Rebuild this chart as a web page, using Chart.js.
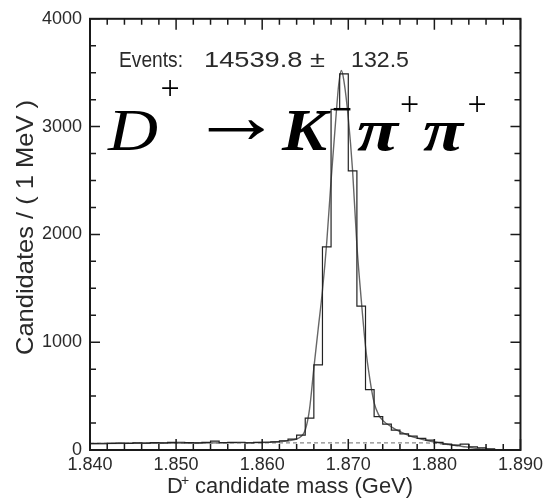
<!DOCTYPE html>
<html>
<head>
<meta charset="utf-8">
<script src="https://cdn.jsdelivr.net/npm/chart.js@4.4.1/dist/chart.umd.min.js"></script>
<style>
  html, body { margin: 0; padding: 0; background: #fff; }
</style>
</head>
<body>
<canvas id="massChart" width="547" height="500"></canvas>
<script>
// D+ -> K- pi+ pi+ candidate mass, 1 MeV bins between 1.840 and 1.890 GeV
const massMin = 1.840;
const massMax = 1.890;
const binWidth = 0.001;
const counts = [
  60, 58, 62, 64, 62, 66, 64, 68, 66, 70,
  72, 68, 66, 70, 82, 68, 70, 72, 66, 70,
  72, 76, 86, 100, 138, 295, 790, 1885, 3160, 3490,
  2590, 1335, 560, 310, 240, 185, 150, 129, 108, 92,
  71, 55, 45, 55, 30, 21, 10, 0, 0, 0
];

// fitted line shape (signal + background)
const fitMass = [
  1.840, 1.845, 1.850, 1.855, 1.858, 1.860, 1.862, 1.863, 1.864, 1.8645,
  1.865, 1.8655, 1.866, 1.8665, 1.867, 1.8675, 1.868, 1.8685, 1.8689, 1.8692,
  1.8695, 1.870, 1.8705, 1.871, 1.8715, 1.872, 1.8725, 1.873, 1.8735, 1.874,
  1.875, 1.876, 1.877, 1.878, 1.879, 1.880, 1.881, 1.882, 1.883, 1.884,
  1.885, 1.886, 1.887
];
const fitValue = [
  60, 62, 64, 66, 68, 70, 78, 86, 102, 125,
  185, 380, 760, 1120, 1480, 1930, 2500, 3020, 3400, 3520,
  3420, 3080, 2590, 1900, 1400, 960, 660, 440, 330, 275,
  215, 170, 136, 110, 90, 74, 60, 48, 36, 25,
  15, 7, 0
];

// background component
const bkgMass = [1.840, 1.850, 1.860, 1.870, 1.878, 1.880, 1.882, 1.884, 1.886, 1.887];
const bkgValue = [62, 64, 66, 67, 66, 62, 45, 24, 6, 0];

const xTicks = [1.840, 1.850, 1.860, 1.870, 1.880, 1.890];
const yTicks = [0, 1000, 2000, 3000, 4000];

const histPoints = counts.map((c, i) => ({ x: massMin + i * binWidth, y: c }));
histPoints.push({ x: massMax, y: counts[counts.length - 1] });

const ink = '#1a1a1a';
const labelInk = '#2a2a2a';

// squeeze or stretch a string horizontally to a given width
function fitText(ctx, text, x, y, width) {
  const w = ctx.measureText(text).width;
  ctx.save();
  ctx.translate(x, y);
  ctx.scale(width / w, 1);
  ctx.fillText(text, 0, 0);
  ctx.restore();
}

const framePlugin = {
  id: 'frame',
  afterDatasetsDraw(chart) {
    const { ctx, chartArea: a, scales: { x, y } } = chart;
    ctx.save();
    ctx.strokeStyle = ink;
    ctx.lineWidth = 2;
    ctx.strokeRect(a.left, a.top, a.right - a.left, a.bottom - a.top);

    // inward ticks on all four sides
    ctx.lineWidth = 1.5;
    ctx.beginPath();
    for (let i = 0; i <= 25; i++) {
      const px = x.getPixelForValue(massMin + i * 0.002);
      const len = i % 5 === 0 ? 11 : 6;
      ctx.moveTo(px, a.bottom); ctx.lineTo(px, a.bottom - len);
      ctx.moveTo(px, a.top); ctx.lineTo(px, a.top + len);
    }
    for (let v = 0; v <= 4000; v += 250) {
      const py = y.getPixelForValue(v);
      const len = v % 1000 === 0 ? 10 : 6;
      ctx.moveTo(a.left, py); ctx.lineTo(a.left + len, py);
      ctx.moveTo(a.right, py); ctx.lineTo(a.right - len, py);
    }
    ctx.stroke();

    ctx.fillStyle = labelInk;
    ctx.textBaseline = 'alphabetic';
    ctx.textAlign = 'left';

    // fit result
    ctx.font = '22px "Liberation Sans"';
    fitText(ctx, 'Events:', 119, 67, 64);
    fitText(ctx, '14539.8 \u00b1', 204, 67, 121);
    fitText(ctx, '132.5', 351, 67, 58);

    // decay channel
    ctx.fillStyle = '#000';
    ctx.font = 'italic 60px "Liberation Serif"';
    fitText(ctx, 'D', 108, 150, 50);
    ctx.font = 'bold italic 60px "Liberation Serif"';
    fitText(ctx, 'K', 282, 150, 45);
    fitText(ctx, '\u03c0', 357, 150, 41);
    fitText(ctx, '\u03c0', 423, 150, 40);
    ctx.font = 'bold 80px "Liberation Serif"';
    fitText(ctx, '\u2192', 190, 143, 93);
    ctx.textAlign = 'center';
    ctx.textBaseline = 'middle';
    ctx.font = '34px "Liberation Serif"';
    ctx.fillText('+', 170, 90);
    ctx.fillText('+', 409.5, 106);
    ctx.fillText('+', 477, 106);
    ctx.font = 'bold 36px "Liberation Serif"';
    ctx.fillText('\u2212', 342, 112);

    // axis titles
    ctx.fillStyle = labelInk;
    ctx.textAlign = 'left';
    ctx.textBaseline = 'alphabetic';
    ctx.font = '22px "Liberation Sans"';
    ctx.fillText('D', 167, 493);
    fitText(ctx, 'candidate mass (GeV)', 195, 493, 218);
    ctx.font = '14px "Liberation Sans"';
    ctx.fillText('+', 181, 485);

    ctx.save();
    ctx.translate(33, 355);
    ctx.rotate(-Math.PI / 2);
    ctx.font = '24px "Liberation Sans"';
    fitText(ctx, 'Candidates / ( 1 MeV )', 0, 0, 255);
    ctx.restore();

    ctx.restore();
  }
};

new Chart(document.getElementById('massChart'), {
  type: 'line',
  data: {
    datasets: [
      {
        label: 'data',
        data: histPoints,
        stepped: 'before',
        borderColor: '#222',
        borderWidth: 1.2,
        pointRadius: 0,
        fill: false
      },
      {
        label: 'fit',
        data: fitMass.map((m, i) => ({ x: m, y: fitValue[i] })),
        borderColor: '#666',
        borderWidth: 1.4,
        pointRadius: 0,
        cubicInterpolationMode: 'monotone',
        fill: false
      },
      {
        label: 'background',
        data: bkgMass.map((m, i) => ({ x: m, y: bkgValue[i] })),
        borderColor: '#888',
        borderWidth: 1.2,
        borderDash: [4, 3],
        pointRadius: 0,
        cubicInterpolationMode: 'monotone',
        fill: false
      }
    ]
  },
  options: {
    responsive: false,
    animation: false,
    devicePixelRatio: 1,
    layout: { padding: { top: 16, right: 25, left: 0, bottom: 0 } },
    plugins: {
      legend: { display: false },
      tooltip: { enabled: false }
    },
    scales: {
      x: {
        type: 'linear',
        min: massMin,
        max: massMax,
        afterBuildTicks: (scale) => { scale.ticks = xTicks.map(v => ({ value: v })); },
        afterFit: (scale) => { scale.height = 50; },
        grid: { display: false, drawTicks: false },
        border: { display: false },
        ticks: {
          padding: 4,
          color: labelInk,
          font: { family: 'Liberation Sans', size: 18 },
          callback: (v) => v.toFixed(3),
          maxRotation: 0
        }
      },
      y: {
        min: 0,
        max: 4000,
        afterBuildTicks: (scale) => { scale.ticks = yTicks.map(v => ({ value: v })); },
        afterFit: (scale) => { scale.width = 90; },
        grid: { display: false, drawTicks: false },
        border: { display: false },
        ticks: {
          padding: 8,
          color: labelInk,
          font: { family: 'Liberation Sans', size: 18 },
          callback: (v) => String(v)
        }
      }
    }
  },
  plugins: [framePlugin]
});
</script>
</body>
</html>
